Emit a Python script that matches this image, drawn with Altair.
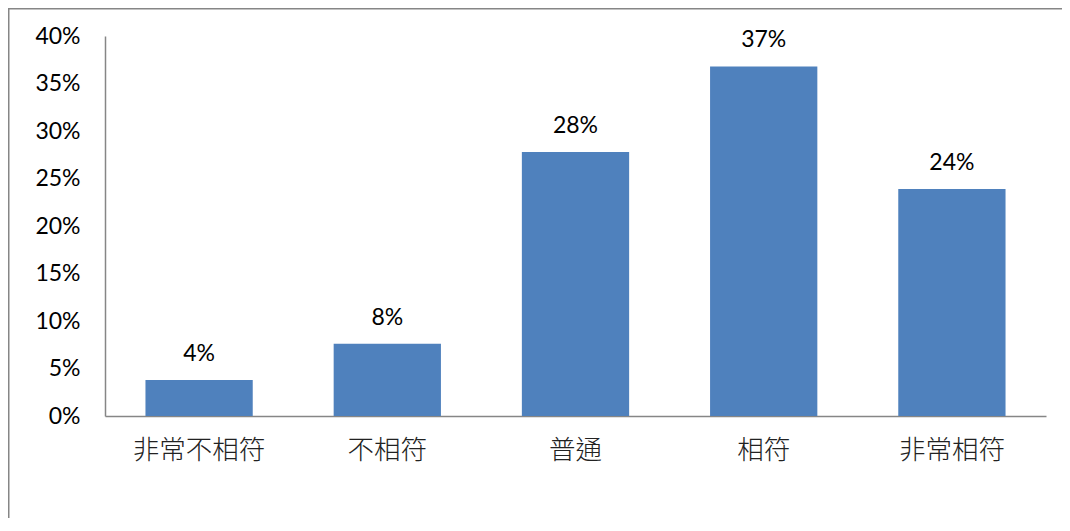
import altair as alt
import pandas as pd

categories = ["非常不相符", "不相符", "普通", "相符", "非常相符"]
values = [0.038, 0.076, 0.278, 0.368, 0.239]
y_ticks = [0, 0.05, 0.10, 0.15, 0.20, 0.25, 0.30, 0.35, 0.40]

df = pd.DataFrame({"category": categories, "value": values})

W, H = 941, 380
AX = "#868686"

x = alt.X(
    "category:N", sort=categories, title=None,
    scale=alt.Scale(paddingInner=0.43, paddingOuter=0.215),
    axis=alt.Axis(labelAngle=0, labelFont="Noto Sans CJK TC", labelFontSize=26.5,
                  labelFontWeight=300,
                  labelColor="#222", labelPadding=21, ticks=False, grid=False,
                  domainColor=AX, domainWidth=1.5),
)
y = alt.Y(
    "value:Q", title=None, scale=alt.Scale(domain=[0, 0.4], nice=False),
    axis=alt.Axis(format=".0%", values=y_ticks, ticks=False, grid=False,
                  labelPadding=25, labelFont="Lato", labelFontSize=23,
                  labelColor="#000", domainColor=AX, domainWidth=1.5),
)

bars = alt.Chart(df).mark_bar(color="#4F81BD").encode(x=x, y=y)
labels = alt.Chart(df).mark_text(
    font="Lato", fontSize=23, dy=-19, baseline="alphabetic", color="#000"
).encode(x=x, y=y, text=alt.Text("value:Q", format=".0%"))

frame_df = pd.DataFrame({"a": [0]})
frame_top = alt.Chart(frame_df).mark_rule(color=AX, strokeWidth=2).encode(
    x=alt.value(-97), x2=alt.value(1100), y=alt.value(-27.5))
frame_left = alt.Chart(frame_df).mark_rule(color=AX, strokeWidth=2).encode(
    x=alt.value(-96.5), y=alt.value(-28), y2=alt.value(700))

chart = alt.layer(frame_top, frame_left, bars, labels).properties(
    width=W, height=H,
    padding={"left": 97, "top": 28, "right": 16, "bottom": 102},
    autosize=alt.AutoSizeParams(type="none"),
).configure_view(stroke=None)

chart.save("out.html", embed_options={"renderer": "svg", "actions": False})
